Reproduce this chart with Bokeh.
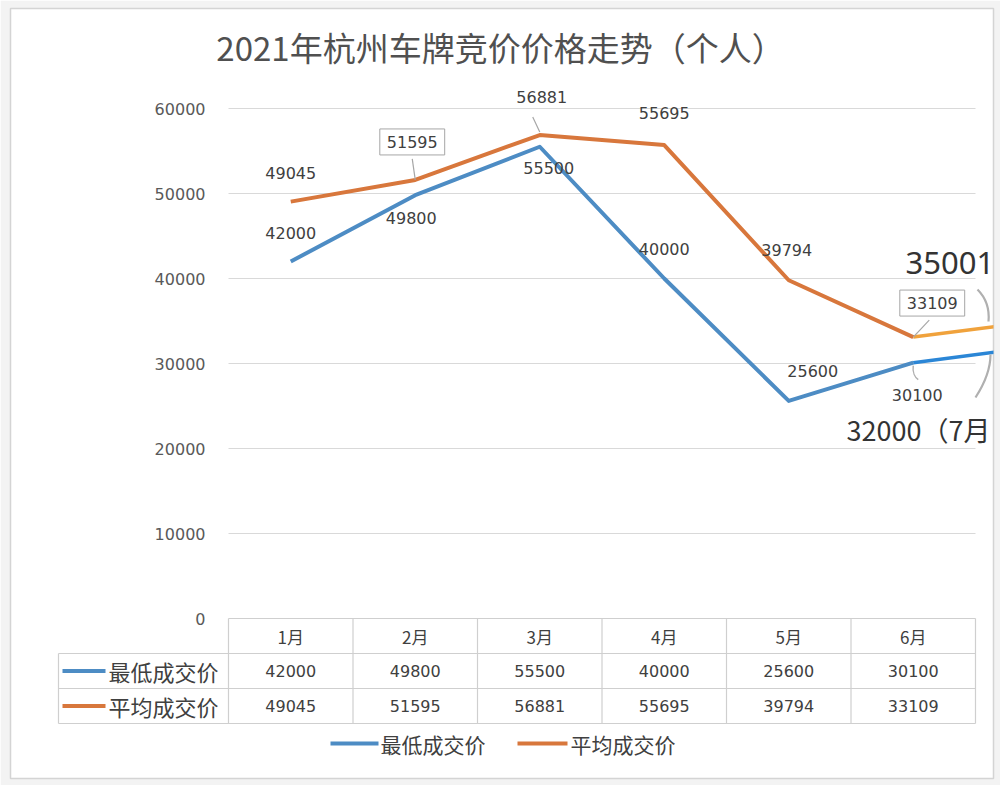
from bokeh.plotting import figure
from bokeh.models import Range1d
from bokeh.core.properties import value
from bokeh.embed import file_html
from bokeh.resources import INLINE

# ---------------- data ----------------
title_text = "2021年杭州车牌竞价价格走势（个人）"
months = ["1月", "2月", "3月", "4月", "5月", "6月"]
low_name = "最低成交价"
avg_name = "平均成交价"
low_vals = [42000, 49800, 55500, 40000, 25600, 30100]
avg_vals = [49045, 51595, 56881, 55695, 39794, 33109]
july_low = 32000
july_avg = 35001
july_low_label = "32000（7月"
july_avg_label = "35001"
y_ticks = [0, 10000, 20000, 30000, 40000, 50000, 60000]

# ---------------- styling ----------------
BLUE = "#4d8cc4"
ORANGE = "#d8773c"
BLUE_EXT = "#2b86d6"
ORANGE_EXT = "#f0a23c"
TXT = "#404040"
GRID = "#d9d9d9"
NUM_FONT = value("DejaVu Sans")
CJK_FONT = value("Noto Sans CJK SC")

# label offsets (screen px) relative to data points
low_dx = [0, -4, 9, 0, 24, 4]
low_dy = [-29, 23, 21, -30, -30, 32]
avg_dx = [0, -3, 2, 0, -2, 19]
avg_dy = [-29, -38, -38, -32, -30, -34]
boxed = [1, 5]

W, H = 1000, 785
BL, BR, BT, BB = 10, 7, 8, 7
FW, FH = W - BL - BR, H - BT - BB
PX_X = 124.5      # px per category
PX_Y = 0.0085     # px per unit value
X0_PX, Y0_PX = 228, 618  # pixel of x=0 / y=0

x_start = (BL - X0_PX) / PX_X
x_end = x_start + FW / PX_X
y_end = (Y0_PX - BT) / PX_Y
y_start = y_end - FH / PX_Y


def X(px):
    return (px - X0_PX) / PX_X


def Y(py):
    return (Y0_PX - py) / PX_Y


def dX(px):
    return px / PX_X


def dY(px):
    return px / PX_Y


p = figure(width=W, height=H, output_backend="svg", toolbar_location=None,
           x_range=Range1d(x_start, x_end), y_range=Range1d(y_start, y_end),
           min_border_left=BL, min_border_right=BR, min_border_top=BT, min_border_bottom=BB)
p.axis.visible = False
p.grid.visible = False
p.outline_line_color = "#d4d4d4"
p.outline_line_width = 1.5
p.background_fill_color = "white"
p.border_fill_color = "#f3f3f3"

ncat = len(months)
xs = [i + 0.5 for i in range(ncat)]

# title
p.text(x=[X(500)], y=[Y(46)], text=[title_text], text_font=CJK_FONT,
       text_font_size="33px", text_color="#505050", text_align="center", text_baseline="middle")

# gridlines + y tick labels
gt = [t for t in y_ticks if t > 0]
p.segment(x0=[0] * len(gt), x1=[ncat] * len(gt), y0=gt, y1=gt, line_color=GRID, line_width=1)
p.text(x=[X(205)] * len(y_ticks), y=y_ticks, text=[str(t) for t in y_ticks], text_font=NUM_FONT,
       text_font_size="16px", text_color="#595959", text_align="right", text_baseline="middle")

# extension lines to July (clipped by frame)
p.line([xs[-1], xs[-1] + 1], [low_vals[-1], july_low], line_color=BLUE_EXT, line_width=3.5)
p.line([xs[-1], xs[-1] + 1], [avg_vals[-1], july_avg], line_color=ORANGE_EXT, line_width=3.5)

# main lines
p.line(xs, low_vals, line_color=BLUE, line_width=4, line_join="round")
p.line(xs, avg_vals, line_color=ORANGE, line_width=4, line_join="round")

# leader lines
for i in boxed:
    p.segment(x0=[xs[i] + dX(avg_dx[i] - (3 if i == 5 else 0))], y0=[avg_vals[i] - dY(avg_dy[i] + 17)],
              x1=[xs[i]], y1=[avg_vals[i]], line_color="#a6a6a6", line_width=1.2)
p.segment(x0=[xs[2] - dX(7)], y0=[avg_vals[2] + dY(18)], x1=[xs[2]], y1=[avg_vals[2] + dY(3)],
          line_color="#a6a6a6", line_width=1.2)

# gray bracket curves near July annotation
p.bezier(x0=[X(977)], y0=[Y(289)], x1=[X(988)], y1=[Y(321)],
         cx0=[X(986)], cy0=[Y(298)], cx1=[X(989)], cy1=[Y(310)], line_color="#b0b0b0", line_width=2.2)
p.bezier(x0=[X(975)], y0=[Y(397)], x1=[X(990)], y1=[Y(354)],
         cx0=[X(986)], cy0=[Y(380)], cx1=[X(990)], cy1=[Y(365)], line_color="#b0b0b0", line_width=2.2)
p.bezier(x0=[xs[5]], y0=[low_vals[5] - dY(3)], x1=[xs[5] + dX(5)], y1=[low_vals[5] - dY(17)],
         cx0=[xs[5] - dX(1)], cy0=[low_vals[5] - dY(10)], cx1=[xs[5] + dX(2)], cy1=[low_vals[5] - dY(15)],
         line_color="#b0b0b0", line_width=1.5)

# data labels
p.text(x=xs, y=low_vals, text=[str(v) for v in low_vals], x_offset=low_dx, y_offset=low_dy,
       text_font=NUM_FONT, text_font_size="16px", text_color=TXT, text_align="center", text_baseline="middle")
plain = [i for i in range(ncat) if i not in boxed]
p.text(x=[xs[i] for i in plain], y=[avg_vals[i] for i in plain], text=[str(avg_vals[i]) for i in plain],
       x_offset=[avg_dx[i] for i in plain], y_offset=[avg_dy[i] for i in plain],
       text_font=NUM_FONT, text_font_size="16px", text_color=TXT, text_align="center", text_baseline="middle")
p.text(x=[xs[i] for i in boxed], y=[avg_vals[i] for i in boxed], text=[str(avg_vals[i]) for i in boxed],
       x_offset=[avg_dx[i] for i in boxed], y_offset=[avg_dy[i] for i in boxed],
       text_font=NUM_FONT, text_font_size="16px", text_color=TXT, text_align="center", text_baseline="middle",
       background_fill_color="white", border_line_color="#a6a6a6", border_line_width=1, padding=7)

# big July annotations
p.text(x=[X(905)], y=[Y(262)], text=[july_avg_label], text_font=value("Noto Sans"),
       text_font_size="31px", text_color="#333333", text_align="left", text_baseline="middle")
p.text(x=[X(846)], y=[Y(429)], text=[july_low_label], text_font=CJK_FONT,
       text_font_size="27px", text_color="#333333", text_align="left", text_baseline="middle")

# ---------------- data table ----------------
R = dY(35)
left_x = X(58)
hy = [0, -R, -2 * R, -3 * R]
p.segment(x0=[0, left_x, left_x, left_x], x1=[ncat] * 4, y0=hy, y1=hy, line_color="#cfcfcf", line_width=1.2)
p.segment(x0=list(range(ncat + 1)), x1=list(range(ncat + 1)), y0=[0] * (ncat + 1), y1=[-3 * R] * (ncat + 1),
          line_color="#cfcfcf", line_width=1.2)
p.segment(x0=[left_x], x1=[left_x], y0=[-R], y1=[-3 * R], line_color="#cfcfcf", line_width=1.2)

p.text(x=xs, y=[-0.5 * R] * ncat, text=months, text_font=CJK_FONT, text_font_size="17px",
       text_color=TXT, text_align="center", text_baseline="middle")
p.text(x=xs, y=[-1.5 * R] * ncat, text=[str(v) for v in low_vals], text_font=NUM_FONT, text_font_size="16px",
       text_color=TXT, text_align="center", text_baseline="middle")
p.text(x=xs, y=[-2.5 * R] * ncat, text=[str(v) for v in avg_vals], text_font=NUM_FONT, text_font_size="16px",
       text_color=TXT, text_align="center", text_baseline="middle")

# row label keys
p.segment(x0=[X(62), X(62)], x1=[X(105), X(105)], y0=[-1.5 * R, -2.5 * R], y1=[-1.5 * R, -2.5 * R],
          line_color=[BLUE, ORANGE], line_width=4)
p.text(x=[X(108), X(108)], y=[-1.5 * R, -2.5 * R], text=[low_name, avg_name], text_font=CJK_FONT,
       text_font_size="22px", text_color=TXT, text_align="left", text_baseline="middle")

# bottom legend
ly = Y(743)
p.segment(x0=[X(330), X(517)], x1=[X(378), X(567)], y0=[ly, ly], y1=[ly, ly],
          line_color=[BLUE, ORANGE], line_width=4)
p.text(x=[X(380), X(570)], y=[ly, ly], text=[low_name, avg_name], text_font=CJK_FONT,
       text_font_size="21px", text_color=TXT, text_align="left", text_baseline="middle")

open("out.html", "w").write(file_html(p, INLINE))
